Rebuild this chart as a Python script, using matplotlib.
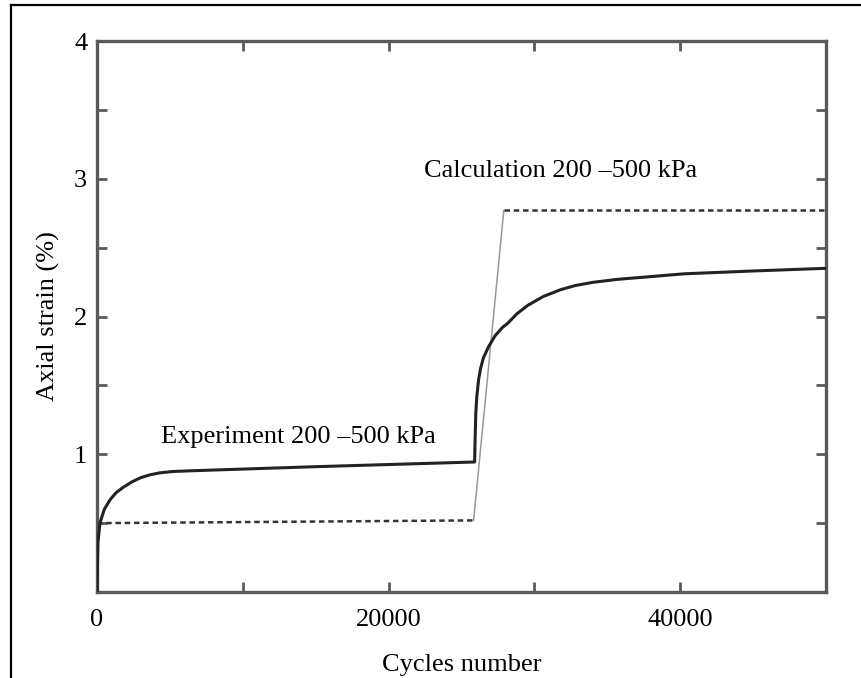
import matplotlib
matplotlib.use("Agg")
import matplotlib.pyplot as plt
from matplotlib.lines import Line2D

# ---- data: cycles vs axial strain (%) ----
exp_cycles = [0, 60, 200, 500, 900, 1300, 1800, 2400, 3000, 3600, 4300, 5200,
              6400, 15000, 25900,
              25930, 25980, 26050, 26170, 26300, 26500, 26850, 27300, 27800,
              28160, 28800, 29530, 30600, 31800, 32800, 34000, 35700, 38000,
              40250, 44850, 50000]
exp_strain = [0.0, 0.35, 0.50, 0.60, 0.67, 0.72, 0.76, 0.80, 0.83, 0.85, 0.865,
              0.875, 0.88, 0.91, 0.944,
              1.10, 1.30, 1.42, 1.54, 1.62, 1.70, 1.78, 1.86, 1.92,
              1.95, 2.02, 2.08, 2.145, 2.195, 2.225, 2.248, 2.27, 2.29,
              2.31, 2.33, 2.35]

calc_low_cycles = [0, 25830]
calc_low_strain = [0.50, 0.52]
calc_jump_cycles = [25830, 27900]
calc_jump_strain = [0.52, 2.77]
calc_high_cycles = [27900, 50000]
calc_high_strain = [2.77, 2.77]

xticks = [0, 10000, 20000, 30000, 40000, 50000]
xticklabels = ["0", "", "20000", "", "40000", ""]
yticks = [0, 0.5, 1, 1.5, 2, 2.5, 3, 3.5, 4]
yticklabels = ["", "", "1", "", "2", "", "3", "", "4"]

plt.rcParams["font.family"] = ["Liberation Serif", "DejaVu Serif"]
FS = 19
SPINE = "#5a5a5a"

fig = plt.figure(figsize=(8.62, 6.78), dpi=100)
ax = fig.add_axes([0.1125, 0.1268, 0.8458, 0.8127])

ax.plot(exp_cycles, exp_strain, color="#222222", lw=2.2,
        solid_joinstyle="round", zorder=3)
ax.plot(calc_low_cycles, calc_low_strain, color="#333333", lw=1.8,
        dashes=(2.2, 1.5), zorder=2)
ax.plot(calc_jump_cycles, calc_jump_strain, color="#999999", lw=1.1, zorder=2)
ax.plot(calc_high_cycles, calc_high_strain, color="#333333", lw=1.8,
        dashes=(2.2, 1.5), zorder=2)

ax.set_xlim(0, 50000)
ax.set_ylim(0, 4)
ax.set_xticks(xticks)
ax.set_xticklabels(xticklabels)
ax.set_yticks(yticks)
ax.set_yticklabels(yticklabels)

ax.tick_params(direction="in", length=7, width=2, color=SPINE,
               top=True, right=True, labelsize=FS)
ax.tick_params(axis="x", pad=12)
ax.tick_params(axis="y", pad=7)
for sp in ax.spines.values():
    sp.set_color(SPINE)
    sp.set_linewidth(2.4)

ax.set_xlabel("Cycles number", fontsize=FS, labelpad=17)
ax.set_ylabel("Axial strain (%)", fontsize=FS, labelpad=10)

ax.text(22460, 3.06, "Calculation 200 \u2013500 kPa", fontsize=FS,
        ha="left", va="center")
ax.text(4400, 1.125, "Experiment 200 \u2013500 kPa", fontsize=FS,
        ha="left", va="center")

# frame around the figure (left and top edges)
fig.add_artist(Line2D([0.0128, 0.0128], [0.0, 0.9926], color="black",
                      lw=1.6, transform=fig.transFigure))
fig.add_artist(Line2D([0.0128, 1.0], [0.9926, 0.9926], color="black",
                      lw=1.6, transform=fig.transFigure))

fig.savefig("out.png", dpi=100)
